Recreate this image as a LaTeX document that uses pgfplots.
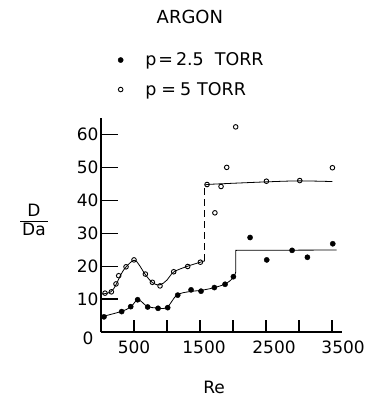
\documentclass[border=0pt]{standalone}
\usepackage{pgfplots}
\pgfplotsset{compat=1.18}
\usepackage{fontspec}
\setmainfont{DejaVu Sans}

% Diffusion ratio D/Da of argon against Reynolds number
\pgfplotstableread{
Re     D
45     4.6
313    6.2
450    7.7
555    9.8
707    7.6
864    7.2
1010   7.4
1162   11.2
1364   12.8
1515   12.4
1717   13.5
1879   14.5
2005   16.8
2258   28.7
2510   21.9
2894   24.8
3126   22.7
3510   26.8
}\lowp

\pgfplotstableread{
Re     D
61     11.8
157    12.2
227    14.6
268    17.1
379    19.8
500    21.9
672    17.6
778    15.1
894    14.0
1101   18.3
1313   19.9
1505   21.2
1606   44.8
1725   36.2
1818   44.2
1904   50.0
2040   62.3
2505   45.8
3010   46.0
3505   49.9
}\highp

\begin{document}
\begin{tikzpicture}
\begin{axis}[
  scale only axis, width=241pt, height=214pt,
  xmin=0, xmax=3650, ymin=0, ymax=65,
  clip mode=individual,
  axis lines=left,
  axis line style={-, line width=1.1pt},
  tick align=inside,
  major tick length=12pt, minor tick length=12pt,
  tick style={black, line width=1.3pt},
  xtick={500,1500,2500,3500},
  minor xtick={1000,2000,3000},
  xticklabels={500,{\hspace*{8pt}1500},{\hspace*{16pt}2500},{\hspace*{22pt}3500}},
  ytick={10,20,...,60},
  /pgf/number format/assume math mode=true,
  font=\fontsize{17}{20}\selectfont,
  xticklabel style={yshift=-5pt},
  yticklabel style={xshift=1pt},
  xlabel={Re},
  every axis x label/.style={at={(axis description cs:0.469,-0.257)}, anchor=center},
  ylabel={\begin{tabular}{@{\hspace{2pt}}c@{\hspace{2pt}}}D\\[-1pt]\hline\rule{0pt}{13pt}Da\end{tabular}},
  every axis y label/.style={at={(axis description cs:-0.278,0.515)}, anchor=center},
  legend style={draw=none, fill=none, inner sep=0pt,
    at={(axis description cs:0.07,1.315)}, anchor=north west,
    row sep=11pt, font=\fontsize{17.5}{20}\selectfont,
    /tikz/every odd column/.append style={column sep=20pt}},
  legend cell align=left,
]
% fitted curves
\addplot[forget plot, black, line width=0.8pt, smooth, tension=0.6] coordinates {
  (0,4.6) (300,6.2) (450,7.6) (560,9.8) (700,7.8) (850,7.3) (1000,7.5)
  (1150,11.2) (1350,12.3) (1500,12.6) (1700,13.4) (1880,14.6) (2000,16.4) (2040,18.2)};
\addplot[forget plot, black, line width=0.8pt] coordinates {
  (2040,18.2) (2040,24.8) (3570,24.9)};
\addplot[forget plot, black, line width=0.8pt, smooth, tension=0.6] coordinates {
  (0,11.5) (150,12.2) (230,14.5) (300,17.4) (380,19.8) (500,21.8) (570,20.6)
  (670,17.5) (780,15.0) (890,14.3) (1000,15.8) (1100,18.2) (1300,19.9) (1505,21.2) (1570,21.6)};
\addplot[forget plot, black, line width=0.8pt, dash pattern=on 7pt off 4pt] coordinates {
  (1570,21.6) (1570,44.6)};
\addplot[forget plot, black, line width=0.8pt, smooth, tension=0.5] coordinates {
  (1570,44.6) (1606,44.8) (1800,45.0) (2500,45.6) (3000,45.9) (3505,45.7)};
% measured points
\addplot[only marks, mark=*, mark size=2.6pt, black] table {\lowp};
\addlegendentry{p\hspace{2pt}=\hspace{3pt}2.5\hspace{11pt}TORR}
\addplot[only marks, mark=o, mark size=2.3pt, black, line width=0.9pt, mark options={fill=white}] table {\highp};
\addlegendentry{p\hspace{5pt}=\hspace{4pt}5\hspace{6pt}TORR}
\node[font=\fontsize{17}{20}\selectfont] at (rel axis cs:0,0) [xshift=-13pt, yshift=-6pt] {0};
\node[font=\fontsize{18}{20}\selectfont] at (axis description cs:0.369,1.472) {ARGON};
\end{axis}
% inward tick marks along both axes (every 500 in Re, every 10 in D/Da)
\foreach \tx in {33.01,66.03,99.04,132.05,165.07,198.08,231.10}
  \draw[black, line width=1.3pt] (\tx pt,0pt) -- (\tx pt,12pt);
\foreach \ty in {32.92,65.85,98.77,131.69,164.62,197.54}
  \draw[black, line width=1.3pt] (0pt,\ty pt) -- (17pt,\ty pt);
\path (-101pt,-68pt) rectangle (281pt,332pt);
\end{tikzpicture}
\end{document}
